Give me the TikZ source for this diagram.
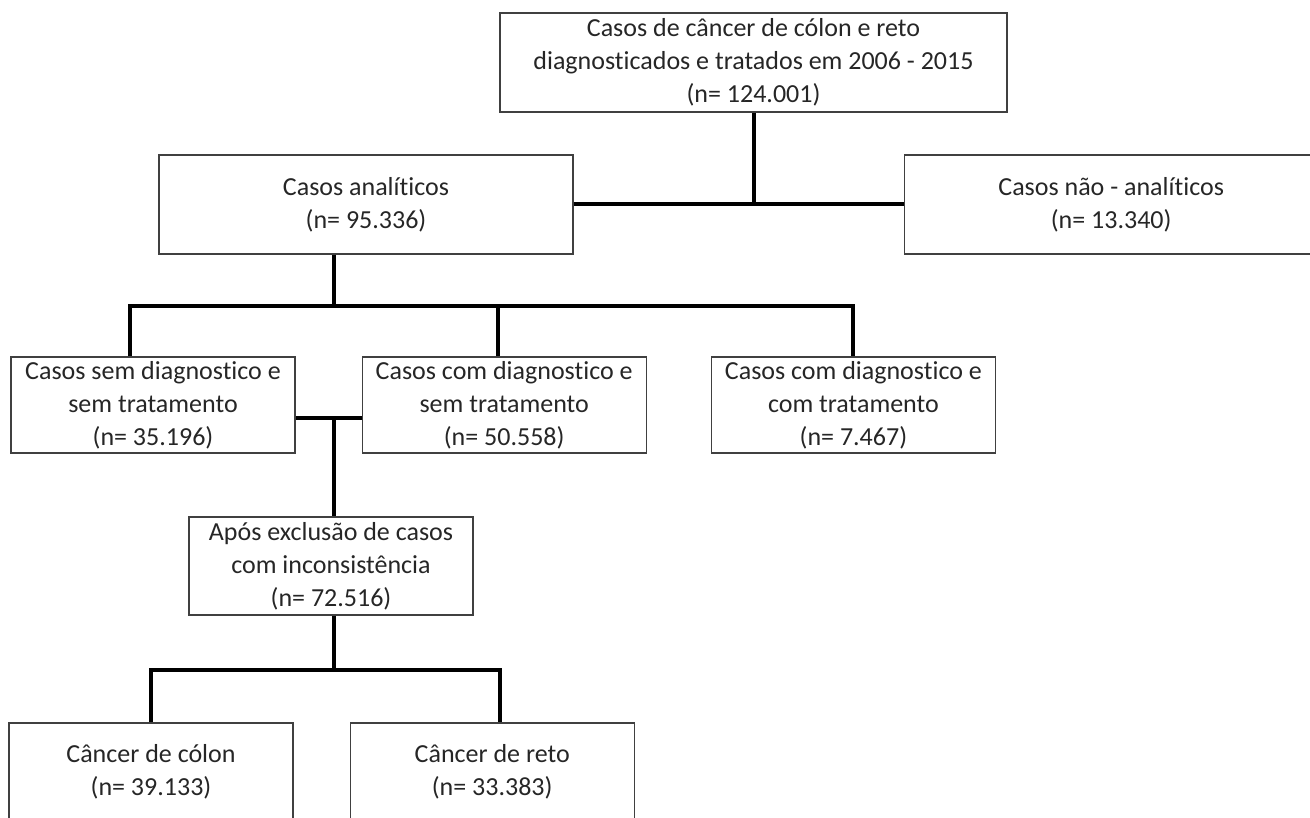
\documentclass[tikz,border=0pt]{standalone}
\usepackage{fontspec}
\setmainfont{Carlito}[Ligatures={NoCommon}]
\usepackage{tikz}
\usetikzlibrary{positioning}

\begin{document}
\begin{tikzpicture}[x=0.5pt,y=-0.5pt,
    caixa/.style={draw=black!75,line width=0.6pt,align=center,inner sep=0pt,
      text=black!85,font=\fontsize{13}{16.5}\selectfont},
    nivel/.style={caixa,minimum width=142pt,minimum height=48pt},
    linha/.style={line width=2pt}]
    \useasboundingbox (0,0) rectangle (1310,818);

    % caixas
    \node[caixa,minimum width=253.5pt,minimum height=49.5pt] (topo) at (753.5,62.5)
        {Casos de câncer de cólon e reto\\diagnosticados e tratados em 2006 - 2015\\(n= 124.001)};
    \node[caixa,minimum width=207pt,minimum height=49.5pt]   (ana)  at (366,204.5)
        {Casos analíticos\\(n= 95.336)};
    \node[caixa,minimum width=207pt,minimum height=49.5pt]   (nana) [right=165pt of ana]
        {Casos não - analíticos\\(n= 13.340)};

    \node[nivel] (sdst) at (153,405)        {Casos sem diagnostico e\\sem tratamento\\(n= 35.196)};
    \node[nivel] (cdst) [right=33pt of sdst] {Casos com diagnostico e\\sem tratamento\\(n= 50.558)};
    \node[nivel] (cdct) [right=32pt of cdst] {Casos com diagnostico e\\com tratamento\\(n= 7.467)};

    \node[nivel,minimum height=49pt] (apos) at (331,566)
        {Após exclusão de casos\\com inconsistência\\(n= 72.516)};

    \node[nivel,minimum height=49pt] (colon) at (151,772)    {Câncer de cólon\\(n= 39.133)};
    \node[nivel,minimum height=49pt] (reto) [right=28pt of colon] {Câncer de reto\\(n= 33.383)};

    % ligacoes
    \coordinate (b1) at (334,306);
    \coordinate (b2) at (334,418);
    \coordinate (b3) at (334,670);

    \draw[linha] (topo.south) -- (topo.south |- ana.east);
    \draw[linha] (ana.east) -- (nana.west);

    \draw[linha] (b1 |- ana.south) -- (b1);
    \draw[linha] ([xshift=-11.75pt]sdst.north) |- (cdct.north |- b1) -- (cdct.north);
    \draw[linha] ([xshift=-3pt]cdst.north) -- ([xshift=-3pt]cdst.north |- b1);

    \draw[linha] ([yshift=-6.5pt]sdst.east) -- ([yshift=-6.5pt]cdst.west);
    \draw[linha] (b2) -- (b2 |- apos.north);

    \draw[linha] (b3 |- apos.south) -- (b3);
    \draw[linha] (colon.north) |- ([xshift=3.75pt]reto.north |- b3) -- ([xshift=3.75pt]reto.north);
\end{tikzpicture}
\end{document}
